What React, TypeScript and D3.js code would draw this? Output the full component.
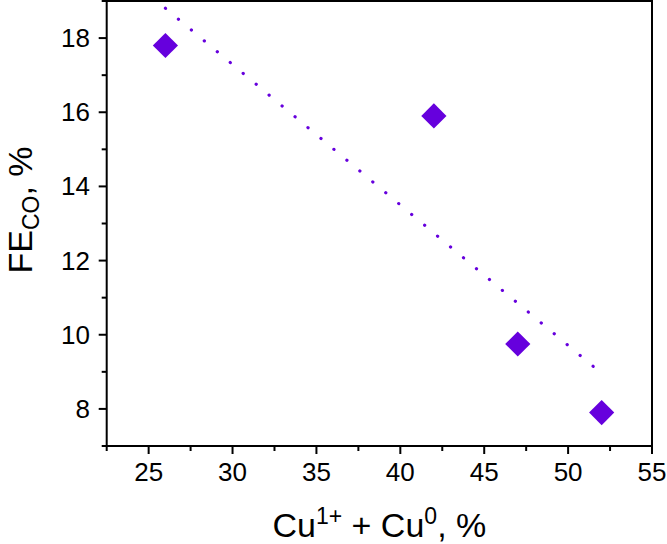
import React, { useEffect, useRef } from "react";
import * as d3 from "d3";

const cuContent = [26, 42, 47, 52];
const feCO = [17.8, 15.9, 9.75, 7.9];
const xMajorTicks = [25, 30, 35, 40, 45, 50, 55];
const xMinorTicks = [22.5, 27.5, 32.5, 37.5, 42.5, 47.5, 52.5];
const yMajorTicks = [8, 10, 12, 14, 16, 18];
const yMinorTicks = [7, 9, 11, 13, 15, 17, 19];

const W = 667;
const H = 544;
const M = { left: 106.7, right: 652, top: 1, bottom: 446 };
const COLOR = "#6600dd";
const FONT = "Arial, 'Liberation Sans', Helvetica, sans-serif";

export default function App() {
  const ref = useRef<SVGSVGElement>(null);

  useEffect(() => {
    const svg = d3.select(ref.current);
    svg.selectAll("*").remove();

    const x = d3.scaleLinear().domain([22.5, 55]).range([M.left, M.right]);
    const y = d3.scaleLinear().domain([7, 19]).range([M.bottom, M.top]);

    // linear fit
    const mx = d3.mean(cuContent)!;
    const my = d3.mean(feCO)!;
    let sxy = 0, sxx = 0;
    cuContent.forEach((v, i) => {
      sxy += (v - mx) * (feCO[i] - my);
      sxx += (v - mx) * (v - mx);
    });
    const slope = sxy / sxx;
    const icpt = my - slope * mx;
    const x0 = d3.min(cuContent)!;
    const x1 = d3.max(cuContent)!;
    const fit: [number, number][] = [
      [x0, icpt + slope * x0],
      [x1, icpt + slope * x1],
    ];

    const line = d3
      .line<[number, number]>()
      .x((d) => x(d[0]))
      .y((d) => y(d[1]));

    svg
      .append("path")
      .attr("d", line(fit))
      .attr("fill", "none")
      .attr("stroke", COLOR)
      .attr("stroke-width", 3.2)
      .attr("stroke-linecap", "round")
      .attr("stroke-dasharray", "0.1 16.8");

    // markers
    const sym = d3.symbol().type(d3.symbolSquare).size(12.6 * 12.6 * 2);
    svg
      .selectAll("path.pt")
      .data(cuContent)
      .enter()
      .append("path")
      .attr("class", "pt")
      .attr("d", sym() as string)
      .attr("transform", (d, i) => `translate(${x(d)},${y(feCO[i])}) rotate(45)`)
      .attr("fill", COLOR);

    // frame
    svg
      .append("rect")
      .attr("x", M.left)
      .attr("y", M.top)
      .attr("width", M.right - M.left)
      .attr("height", M.bottom - M.top)
      .attr("fill", "none")
      .attr("stroke", "#000")
      .attr("stroke-width", 2);

    const g = svg.append("g").attr("stroke", "#000").attr("stroke-width", 2);
    // x ticks
    g.selectAll("line.xM")
      .data(xMajorTicks)
      .enter()
      .append("line")
      .attr("x1", (d) => x(d))
      .attr("x2", (d) => x(d))
      .attr("y1", M.bottom)
      .attr("y2", M.bottom + 8);
    g.selectAll("line.xm")
      .data(xMinorTicks)
      .enter()
      .append("line")
      .attr("x1", (d) => x(d))
      .attr("x2", (d) => x(d))
      .attr("y1", M.bottom)
      .attr("y2", M.bottom + 5);
    g.selectAll("line.yM")
      .data(yMajorTicks)
      .enter()
      .append("line")
      .attr("x1", M.left)
      .attr("x2", M.left - 8)
      .attr("y1", (d) => y(d))
      .attr("y2", (d) => y(d));
    g.selectAll("line.ym")
      .data(yMinorTicks)
      .enter()
      .append("line")
      .attr("x1", M.left)
      .attr("x2", M.left - 5)
      .attr("y1", (d) => y(d))
      .attr("y2", (d) => y(d));

    // tick labels
    svg
      .selectAll("text.xl")
      .data(xMajorTicks)
      .enter()
      .append("text")
      .attr("x", (d) => x(d))
      .attr("y", 481)
      .attr("text-anchor", "middle")
      .attr("font-family", FONT)
      .attr("font-size", 26)
      .attr("fill", "#000")
      .text((d) => String(d));
    svg
      .selectAll("text.yl")
      .data(yMajorTicks)
      .enter()
      .append("text")
      .attr("x", 90)
      .attr("y", (d) => y(d) + 9)
      .attr("text-anchor", "end")
      .attr("font-family", FONT)
      .attr("font-size", 26)
      .attr("fill", "#000")
      .text((d) => String(d));

    // x title
    const xt = svg
      .append("text")
      .attr("x", (M.left + M.right) / 2)
      .attr("y", 537)
      .attr("text-anchor", "middle")
      .attr("font-family", FONT)
      .attr("font-size", 34)
      .attr("fill", "#000");
    xt.append("tspan").text("Cu");
    xt.append("tspan").attr("font-size", 23).attr("dy", -13).text("1+");
    xt.append("tspan").attr("dy", 13).text(" + Cu");
    xt.append("tspan").attr("font-size", 23).attr("dy", -13).text("0");
    xt.append("tspan").attr("dy", 13).text(", %");

    // y title
    const yt = svg
      .append("text")
      .attr("transform", `translate(31.5,${210}) rotate(-90)`)
      .attr("text-anchor", "middle")
      .attr("font-family", FONT)
      .attr("font-size", 34)
      .attr("fill", "#000");
    yt.append("tspan").text("FE");
    yt.append("tspan").attr("font-size", 23).attr("dy", 7).text("CO");
    yt.append("tspan").attr("dy", -7).text(", %");
  }, []);

  return (
    <svg
      ref={ref}
      width={W}
      height={H}
      style={{ position: "absolute", left: 0, top: 0, background: "#fff" }}
    />
  );
}
